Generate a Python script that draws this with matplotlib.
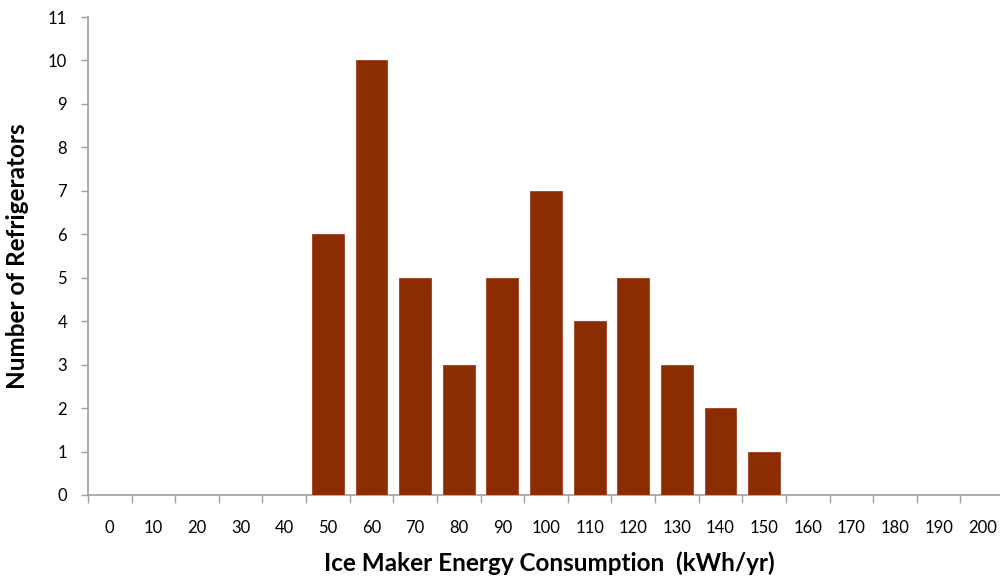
import matplotlib
matplotlib.use("Agg")
import matplotlib.pyplot as plt
import numpy as np

categories = [str(v) for v in range(0, 201, 10)]
counts = [0, 0, 0, 0, 0, 6, 10, 5, 3, 5, 7, 4, 5, 3, 2, 1, 0, 0, 0, 0, 0]
yticks = list(range(0, 12))

plt.rcParams['font.family'] = ['Lato', 'DejaVu Sans']

fig = plt.figure(figsize=(10, 5.8), dpi=100)
ax = fig.add_axes([0.088, 0.1466, 0.916, 0.824])

x = np.arange(len(categories))
ax.bar(x, counts, width=0.73, color='#8B2D00', edgecolor='#A04020', linewidth=0.6, zorder=3)

ax.set_xlim(-0.5, len(categories) - 0.5)
ax.set_ylim(0, 11)
ax.set_yticks(yticks)
ax.set_yticklabels([str(v) for v in yticks], fontsize=12)

ax.set_xticks(x)
ax.set_xticklabels(categories, fontsize=12)
ax.tick_params(axis='x', which='major', length=0, pad=18)
ax.set_xticks(np.arange(-0.5, len(categories), 1), minor=True)
ax.tick_params(axis='x', which='minor', length=6, color='#A0A0A0', width=1, direction='out')
ax.tick_params(axis='y', length=5, color='#A0A0A0', width=1, direction='out', pad=10)

for s in ['top', 'right']:
    ax.spines[s].set_visible(False)
for s in ['left', 'bottom']:
    ax.spines[s].set_color('#A0A0A0')
    ax.spines[s].set_linewidth(1.2)

ax.set_ylabel('Number of Refrigerators', fontsize=17.5, fontweight='bold')
ax.yaxis.set_label_coords(-(88 - 18) / 916, (495 - 256) / 478)
ax.set_xlabel('Ice Maker Energy Consumption  (kWh/yr)', fontsize=17.5, fontweight='bold')
ax.xaxis.set_label_coords((549 - 88) / 916, -(563 - 495) / 478)
ax.xaxis.label.set_va('center')
ax.yaxis.label.set_va('center')

fig.savefig('out.png', dpi=100)
